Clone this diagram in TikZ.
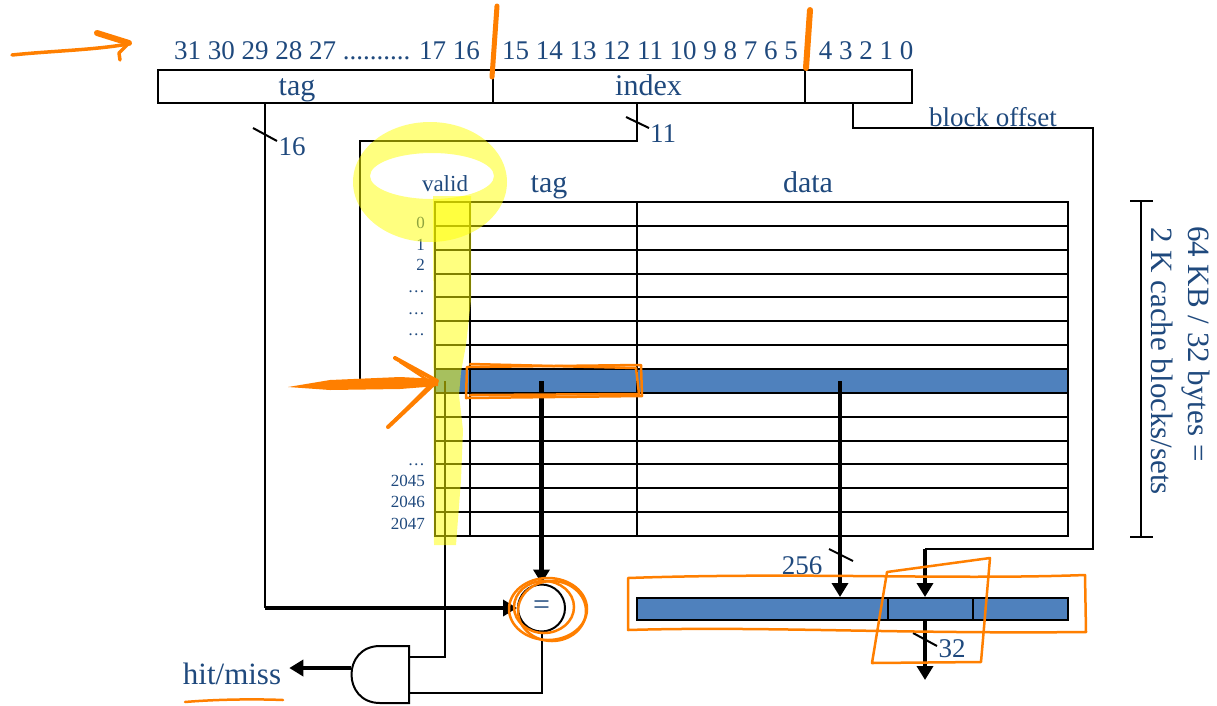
\documentclass[tikz,border=0pt]{standalone}
\usepackage{fontspec}
\setmainfont{Liberation Serif}
\usetikzlibrary{arrows.meta, calc}
\definecolor{txtblue}{HTML}{1F497D}
\definecolor{cellblue}{HTML}{4F81BD}
\definecolor{penorange}{HTML}{FF7F00}
\definecolor{hilite}{HTML}{FFFF00}
\newcommand{\hdrfont}{\fontsize{30}{36}\selectfont}
\newcommand{\bitfont}{\fontsize{27}{32}\selectfont}
\newcommand{\wirefont}{\fontsize{27}{32}\selectfont}
\newcommand{\rowfont}{\fontsize{17}{20}\selectfont}
\newcommand{\validfont}{\fontsize{23}{28}\selectfont}
\newcommand{\notefont}{\fontsize{31}{37}\selectfont}

\begin{document}
\begin{tikzpicture}[x=1pt, y=-1pt, >={Triangle[length=14pt,width=16pt]},
  lbl/.style={text=txtblue, inner sep=0pt},
  field/.style={draw, line width=2pt, minimum height=33pt, inner sep=0pt},
  wire/.style={line width=2pt},
  bus/.style={line width=4.5pt},
  grid/.style={line width=2pt},
  ink/.style={penorange, line width=2.5pt, line cap=round, line join=round},
  marker/.style={hilite, opacity=0.5}]
  \useasboundingbox (0,0) rectangle (1217,705);

  % --- address fields ---
  \node[field, minimum width=335pt] (ftag) at (325.5,86.5) {};
  \node[field, minimum width=312pt] (fidx) at (649,86.5) {};
  \node[field, minimum width=107pt] (foff) at (858.5,86.5) {};
  \node[lbl, font=\hdrfont, anchor=base] (ltag) at (297,95) {tag};
  \node[lbl, font=\hdrfont, anchor=base] (lidx) at (648.5,95) {index};
  \node[lbl, font=\bitfont, anchor=base] (bhi) at (327,59) {31 30 29 28 27 .......... 17 16};
  \node[lbl, font=\bitfont, anchor=base] (bmid) at (650,59) {15 14 13 12 11 10 9 8 7 6 5};
  \node[lbl, font=\bitfont, anchor=base] (blo) at (866,59) {4 3 2 1 0};

  % --- cache table ---
  \fill[cellblue] (435,369) rectangle (1068,393);
  \draw[grid] (435,202) rectangle (1068,536);
  \foreach \i in {1,...,13}
    \draw[grid] (435,{202+23.857*\i}) -- (1068,{202+23.857*\i});
  \draw[grid] (470,202) -- (470,536);
  \draw[grid] (637,202) -- (637,536);
  \node[lbl, font=\validfont, anchor=base] (hvalid) at (445,191) {valid};
  \node[lbl, font=\hdrfont, anchor=base] (htag) at (549,192) {tag};
  \node[lbl, font=\hdrfont, anchor=base] (hdata) at (808,192) {data};
  \foreach \lab/\yb [count=\k] in {0/228, 1/250, 2/270, \ldots/292, \ldots/314, \ldots/335,
                                   \ldots/465, 2045/486, 2046/507, 2047/529}
    \node[lbl, font=\rowfont, anchor=base east] (row\k) at (425,\yb) {\lab};

  % --- index lines ---
  \coordinate (i0) at (637,103);
  \coordinate (i1) at (637,141);
  \coordinate (i2) at (360,141);
  \coordinate (i3) at (360,381);
  \coordinate (i4) at (435,381);
  \draw[wire] (i0) -- (i1) -- (i2) -- (i3) -- (i4);
  \draw[wire] (626,117) -- (649,128);
  \node[lbl, font=\wirefont, anchor=base] (n11) at (663,142) {11};

  % --- tag lines ---
  \node[circle, draw, line width=2pt, minimum size=47pt, inner sep=0pt,
        font=\hdrfont, text=txtblue] (cmp) at (541.5,608) {=};
  \coordinate (t0) at (265,103);
  \coordinate (t1) at (265,608);
  \draw[wire] (t0) -- (t1);
  \draw[bus,->] (t1) -- (cmp.west);
  \draw[wire] (253,128) -- (277,141);
  \node[lbl, font=\wirefont, anchor=base] (n16) at (292,155) {16};

  % --- block offset lines ---
  \node[draw, line width=2pt, fill=cellblue, minimum width=431pt, minimum height=22pt,
        inner sep=0pt] (mux) at (852.5,609) {};
  \draw[line width=1.5pt] (888,598) -- (888,620);
  \draw[line width=1.5pt] (973,598) -- (973,620);
  \coordinate (o0) at (853,103);
  \coordinate (o1) at (853,128);
  \coordinate (o2) at (1093,128);
  \coordinate (o3) at (1093,549);
  \coordinate (o4) at (925,549);
  \draw[wire] (o0) -- (o1) -- (o2) -- (o3) -- (o4);
  \draw[bus,->] (o4) -- (o4 |- mux.north);
  \node[lbl, font=\wirefont, anchor=base] (boff) at (993,126) {block offset};
  \coordinate (out) at (925,680);
  \draw[bus,->] (out |- mux.south) -- (out);
  \draw[wire] (913,633) -- (937,646);
  \node[lbl, font=\wirefont, anchor=base] (n32) at (952,657) {32};

  % --- selected row ---
  \coordinate (v0) at (445,381);
  \coordinate (s0) at (541.5,381);
  \coordinate (d0) at (840,381);
  \draw[bus,->] (s0) -- (cmp.north);
  \draw[bus,->] (d0) -- (d0 |- mux.north);
  \draw[wire] (829,549) -- (853,561);
  \node[lbl, font=\wirefont, anchor=base] (n256) at (802,574) {256};

  % --- and gate ---
  \coordinate (ga) at (409,657);
  \coordinate (gb) at (409,693);
  \coordinate (gout) at (351,668);
  \draw[wire, fill=white] (409,646) -- (380,646) .. controls (342,646) and (342,703) .. (380,703)
    -- (409,703) -- cycle;
  \draw[wire] (v0) |- (ga);
  \draw[wire] (cmp.south) |- (gb);
  \node[lbl, font=\notefont, anchor=base] (hm) at (232,684) {hit/miss};
  \draw[line width=4pt,->,shorten >=8pt] (gout) -- (gout -| hm.east);

  % --- size bracket ---
  \draw[wire] (1141,201) -- (1141,537);
  \draw[wire] (1130,201) -- (1153,201);
  \draw[wire] (1130,537) -- (1153,537);
  \node[lbl, font=\notefont, rotate=-90, anchor=base west] (size1) at (1188,226) {64 KB / 32 bytes =};
  \node[lbl, font=\notefont, rotate=-90, anchor=base west] (size2) at (1151,227) {2 K cache blocks/sets};

  % --- highlighter marks ---
  \fill[marker, even odd rule] (430,182) ellipse[x radius=77, y radius=60]
    (432,176) ellipse[x radius=62, y radius=23];
  \fill[marker] (433,196) -- (471,196) -- (471,300) -- (466,345) -- (461,372) -- (459,395)
    -- (463,430) -- (461,480) -- (456,545) -- (434,545) -- cycle;

  % --- pen marks ---
  \draw[ink, line width=3.5pt] (12,55) .. controls (50,51) and (95,50) .. (128,44);
  \draw[ink, line width=6pt] (97,33) -- (129,43);
  \draw[ink, line width=3.5pt] (129,43) -- (119,53) -- (120,60);
  \draw[ink, line width=5pt] (497,6) -- (492,77);
  \draw[ink, line width=6pt] (810,10) -- (806,68);
  \fill[penorange] (288,387) -- (330,380) -- (400,377) -- (438,379) -- (438,386) -- (400,389)
    -- (330,390) -- cycle;
  \draw[ink, line width=4pt] (395,358) -- (437,381) -- (388,427);
  \draw[ink] (400,362) -- (432,383) -- (395,420);
  \draw[ink] (467,367) -- (641,365) -- (642,396) -- (466,398) -- cycle;
  \draw[ink] (470,364) -- (636,368) -- (639,394) -- (470,395);
  \draw[ink] (548,609) ellipse[x radius=39, y radius=31];
  \draw[ink] (544,607) ellipse[x radius=30, y radius=26];
  \draw[ink] (552,611) ellipse[x radius=34, y radius=30];
  \draw[ink] (628,578) .. controls (800,572) and (950,580) .. (1085,575) -- (1086,632)
    .. controls (900,634) and (760,626) .. (628,630) -- cycle;
  \draw[ink] (887,572) -- (990,558) -- (981,662) -- (872,663) -- cycle;
  \draw[ink] (185,702) .. controls (220,699) and (260,699) .. (283,700);
\end{tikzpicture}
\end{document}
